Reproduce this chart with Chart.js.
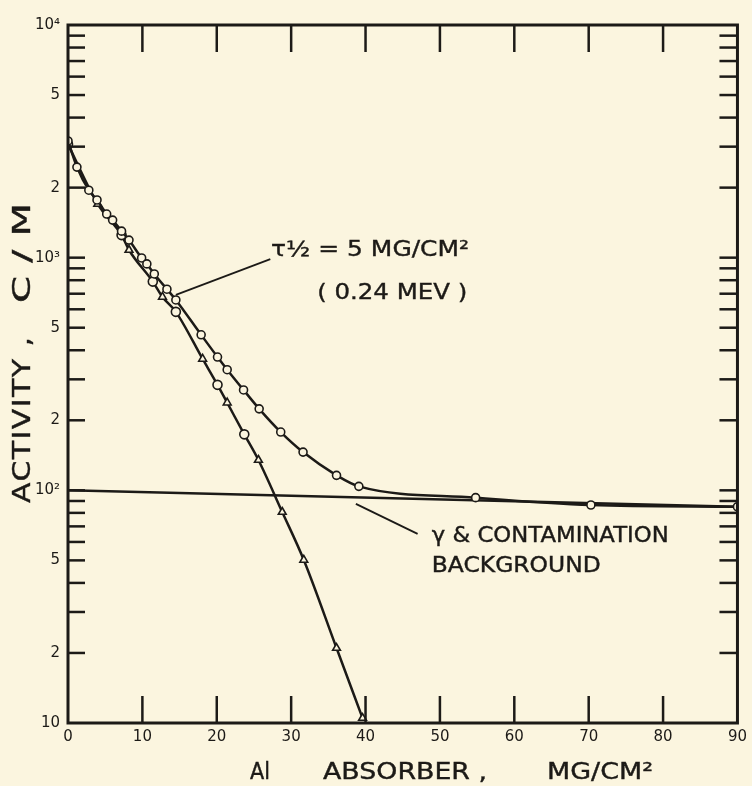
<!DOCTYPE html>
<html>
<head>
<meta charset="utf-8">
<script src="https://cdn.jsdelivr.net/npm/chart.js@4.4.1/dist/chart.umd.min.js"></script>
<style>
  html, body { margin: 0; padding: 0; background: #fbf5df; }
  canvas { display: block; }
</style>
</head>
<body>
<canvas id="absChart" width="752" height="786"></canvas>
<script>
// total activity (open circles)
const totalX = [0, 1.2, 2.8, 3.9, 5.2, 6.0, 7.2, 8.2, 9.9, 10.6, 11.6, 13.3, 14.5, 17.9, 20.1, 21.4, 23.6, 25.7, 28.6, 31.6, 36.1, 39.1, 54.8, 70.3, 90];
const totalY = [3175, 2450, 1950, 1770, 1540, 1450, 1300, 1190, 997, 940, 851, 732, 658, 466, 374, 330, 270, 224, 178, 146, 116, 104, 93, 86.5, 85];
// activity minus background (triangles)
const betaX = [0, 4.0, 7.2, 8.2, 11.4, 12.7, 14.5, 18.1, 20.1, 21.4, 23.7, 25.6, 28.8, 31.7, 36.1, 39.6];
const betaY = [3070, 1700, 1250, 1079, 789, 678, 585, 367, 284, 238, 174, 135, 80.7, 50.2, 21, 10.5];
// gamma & contamination background
const bgX = [0, 90];
const bgY = [100, 85];

const xTicks = [0, 10, 20, 30, 40, 50, 60, 70, 80, 90];
const yTickValues = [10, 20, 50, 100, 200, 500, 1000, 2000, 5000, 10000];
const yTickLabels = ['10', '2', '5', '10²', '2', '5', '10³', '2', '5', '10⁴'];

const ink = '#1c1a17';
const paper = '#fbf5df';
const font = '"DejaVu Sans", sans-serif';

const toPts = (xs, ys) => xs.map((x, i) => ({ x: x, y: ys[i] }));

// every 1..9 step of each decade gets an inward tick
const yMinor = [];
[10, 100, 1000].forEach(d => { for (let k = 1; k < 10; k++) yMinor.push(k * d); });
yMinor.push(10000);

const betaStyles = betaX.map((x, i) => (i % 2 === 1 || x > 26) ? 'triangle' : 'circle');

// hand lettering is wide: widen the glyphs a bit, then spread them to the given width
function fitText(ctx, txt, x, y, w, stretch) {
    ctx.save();
    ctx.letterSpacing = '0px';
    const m = ctx.measureText(txt).width;
    const s = Math.min(stretch || 1.2, w / m);
    ctx.translate(x, y);
    ctx.scale(s, 1);
    const gap = (w / s - m) / Math.max(1, txt.length - 1);
    if (gap > 0) ctx.letterSpacing = gap.toFixed(2) + 'px';
    ctx.fillText(txt, 0, 0);
    ctx.strokeText(txt, 0, 0);
    ctx.restore();
}

const paperPlugin = {
    id: 'paper',
    beforeDraw(chart) {
        const ctx = chart.ctx;
        ctx.save();
        ctx.fillStyle = paper;
        ctx.fillRect(0, 0, chart.width, chart.height);
        ctx.restore();
    },
    afterDraw(chart) {
        const { ctx, chartArea: a, scales: { x, y } } = chart;
        const line = (x1, y1, x2, y2) => { ctx.beginPath(); ctx.moveTo(x1, y1); ctx.lineTo(x2, y2); ctx.stroke(); };
        ctx.save();
        ctx.strokeStyle = ink;
        ctx.fillStyle = ink;
        ctx.lineCap = 'butt';

        // inward ticks on all four sides
        ctx.lineWidth = 2.5;
        xTicks.forEach(v => {
            if (v <= 0 || v >= 90) return;
            const px = x.getPixelForValue(v);
            line(px, a.bottom, px, a.bottom - 27);
            line(px, a.top, px, a.top + 27);
        });
        yMinor.forEach(v => {
            if (v <= 10 || v >= 10000) return;
            const py = y.getPixelForValue(v);
            line(a.left, py, a.left + 17, py);
            line(a.right, py, a.right - 18, py);
        });

        // frame
        ctx.lineWidth = 3;
        ctx.strokeRect(a.left, a.top, a.width, a.height);

        // leader lines
        ctx.lineWidth = 1.8;
        line(x.getPixelForValue(14.5), y.getPixelForValue(692), x.getPixelForValue(27.2), y.getPixelForValue(985));
        line(x.getPixelForValue(38.7), y.getPixelForValue(87.5), x.getPixelForValue(47.0), y.getPixelForValue(65));

        // annotations
        ctx.textBaseline = 'middle';
        ctx.textAlign = 'left';
        ctx.lineWidth = 0.4;
        ctx.font = '22px ' + font;
        fitText(ctx, 'τ½ = 5 MG/CM²', x.getPixelForValue(27.3), y.getPixelForValue(1080), 198);
        fitText(ctx, '( 0.24 MEV )', x.getPixelForValue(33.5), y.getPixelForValue(705), 150);
        ctx.font = '21px ' + font;
        fitText(ctx, 'γ & CONTAMINATION', x.getPixelForValue(48.9), y.getPixelForValue(63), 237);
        fitText(ctx, 'BACKGROUND', x.getPixelForValue(48.9), y.getPixelForValue(46.9), 169);

        // axis titles
        ctx.font = '23px ' + font;
        fitText(ctx, 'Al', 250, 773, 20);
        fitText(ctx, 'ABSORBER ,', 323, 773, 164);
        fitText(ctx, 'MG/CM²', 547, 773, 106);

        ctx.font = '25px ' + font;
        ctx.translate(23, 503);
        ctx.rotate(-Math.PI / 2);
        fitText(ctx, 'ACTIVITY ,', 0, 0, 166);
        fitText(ctx, 'C/M', 200, 0, 100, 1.55);
        ctx.restore();
    }
};

new Chart(document.getElementById('absChart').getContext('2d'), {
    type: 'scatter',
    data: {
        datasets: [
            {
                label: 'Total',
                data: toPts(totalX, totalY),
                showLine: true,
                borderColor: ink,
                borderWidth: 2.5,
                cubicInterpolationMode: 'monotone',
                pointStyle: 'circle',
                pointRadius: 4,
                pointBackgroundColor: paper,
                pointBorderColor: ink,
                pointBorderWidth: 1.6
            },
            {
                label: 'Minus background',
                data: toPts(betaX, betaY),
                showLine: true,
                borderColor: ink,
                borderWidth: 2.5,
                cubicInterpolationMode: 'monotone',
                pointStyle: betaStyles,
                pointRadius: 4.5,
                pointBackgroundColor: paper,
                pointBorderColor: ink,
                pointBorderWidth: 1.6
            },
            {
                label: 'Background',
                data: toPts(bgX, bgY),
                showLine: true,
                borderColor: ink,
                borderWidth: 2.5,
                pointRadius: 0
            }
        ]
    },
    options: {
        responsive: false,
        animation: false,
        devicePixelRatio: 1,
        layout: { padding: { top: 25, right: 12, left: 0, bottom: 0 } },
        plugins: { legend: { display: false }, tooltip: { enabled: false } },
        scales: {
            x: {
                type: 'linear',
                min: 0,
                max: 90,
                afterFit: s => { s.height = 63; },
                afterBuildTicks: s => { s.ticks = xTicks.map(v => ({ value: v })); },
                grid: { display: false, drawTicks: false },
                border: { display: false },
                ticks: { color: ink, padding: 5, font: { family: font, size: 15 }, autoSkip: false, maxRotation: 0 }
            },
            y: {
                type: 'logarithmic',
                min: 10,
                max: 10000,
                afterFit: s => { s.width = 68; },
                afterBuildTicks: s => { s.ticks = yTickValues.map(v => ({ value: v })); },
                grid: { display: false, drawTicks: false },
                border: { display: false },
                ticks: {
                    color: ink,
                    padding: 8,
                    autoSkip: false,
                    font: { family: font, size: 15 },
                    callback: (v) => {
                        const i = yTickValues.indexOf(v);
                        return i >= 0 ? yTickLabels[i] : '';
                    }
                }
            }
        }
    },
    plugins: [paperPlugin]
});
</script>
</body>
</html>
